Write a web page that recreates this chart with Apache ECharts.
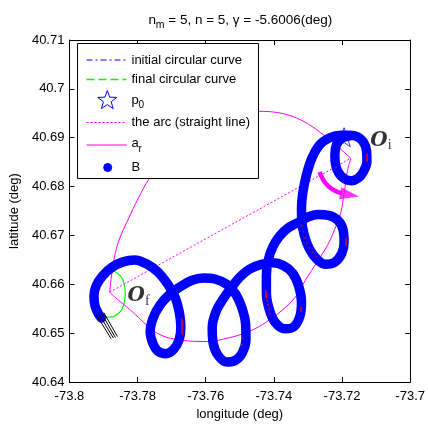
<!DOCTYPE html>
<html>
<head>
<meta charset="utf-8">
<script src="https://cdn.jsdelivr.net/npm/echarts@6/dist/echarts.min.js"></script>
<style>
html,body{margin:0;padding:0;background:#fff;}
#c{width:428px;height:426px;}
</style>
</head>
<body>
<div id="c"></div>
<script>
// Axis ranges and ticks
const lonMin = -73.8, lonMax = -73.7, lonStep = 0.02;
const latMin = 40.64, latMax = 40.71, latStep = 0.01;

// B: trajectory (longitude / latitude), starts on the initial circle around O_i
const bLon = [-73.7176,-73.7201,-73.7216,-73.7221,-73.7219,-73.7209,-73.7191,-73.7173,-73.7153,-73.7137,-73.7127,-73.7128,-73.7138,-73.7155,-73.7176,
  -73.7204,-73.7236,-73.7265,-73.7288,-73.7304,-73.7315,-73.7319,
  -73.7318,-73.7311,-73.7296,-73.7273,-73.7247,-73.7222,-73.7201,-73.7194,-73.7197,-73.7212,-73.7239,-73.7271,-73.7299,-73.7325,-73.7357,-73.7383,-73.7403,
  -73.7416,-73.7422,-73.7422,-73.7414,-73.7397,-73.7368,-73.7342,-73.7324,-73.7319,-73.7327,-73.7345,-73.7371,-73.7403,-73.7437,-73.7472,-73.7501,-73.7524,
  -73.7547,-73.7570,-73.7581,-73.7578,-73.7564,-73.7538,-73.7512,-73.7492,-73.7482,-73.7483,-73.7494,-73.7512,-73.7538,-73.7573,-73.7607,-73.7642,-73.7673,
  -73.7705,-73.7734,-73.7754,-73.7763,-73.7755,-73.7740,-73.7717,-73.7694,-73.7678,-73.7673,-73.7678,-73.7689,-73.7711,-73.7740,-73.7774,-73.7809,
  -73.7843,-73.7875,-73.7902,-73.7921,-73.7928,-73.7925,-73.7915,-73.7906];
const bLat = [40.6904,40.6899,40.6886,40.6865,40.6845,40.6827,40.6815,40.6812,40.6817,40.6831,40.6851,40.6873,40.6892,40.6902,40.6905,
  40.6905,40.6900,40.6886,40.6859,40.6825,40.6788,40.6756,
  40.6730,40.6701,40.6673,40.6651,40.6641,40.6645,40.6663,40.6685,40.6712,40.6731,40.6741,40.6743,40.6738,40.6728,40.6716,40.6699,40.6677,
  40.6651,40.6618,40.6582,40.6550,40.6523,40.6509,40.6513,40.6534,40.6564,40.6596,40.6623,40.6638,40.6644,40.6641,40.6631,40.6614,40.6594,
  40.6572,40.6544,40.6511,40.6479,40.6455,40.6441,40.6445,40.6461,40.6487,40.6519,40.6552,40.6580,40.6600,40.6611,40.6613,40.6608,40.6596,
  40.6580,40.6558,40.6532,40.6503,40.6479,40.6463,40.6458,40.6467,40.6487,40.6513,40.6544,40.6572,40.6600,40.6625,40.6642,40.6650,
  40.6646,40.6635,40.6618,40.6598,40.6576,40.6556,40.6540,40.6531];

// a_r: outer arc from O_f over the top to O_i
const arcOuterLon = [-73.7882,-73.7875,-73.7865,-73.7852,-73.7827,-73.7798,-73.7765,-73.7717,-73.7659,-73.7587,-73.7515,-73.7445,-73.7395,-73.7347,-73.7299,-73.7251,-73.7213,-73.7174];
const arcOuterLat = [40.6584,40.6625,40.6665,40.6695,40.6734,40.6776,40.6817,40.6861,40.6898,40.6928,40.6946,40.6954,40.6952,40.6944,40.6928,40.6904,40.6882,40.6858];

// a_r: inner arc from O_i back to O_f
const arcInnerLon = [-73.7174,-73.7184,-73.7194,-73.7204,-73.7222,-73.7242,-73.7271,-73.7308,-73.7337,-73.7376,-73.7414,-73.7453,-73.7491,-73.7530,-73.7596,-73.7673,-73.7731,-73.7774,-73.7806,-73.7837,-73.7860,-73.7882];
const arcInnerLat = [40.6858,40.6833,40.6786,40.6746,40.6712,40.6681,40.6648,40.6608,40.6574,40.6547,40.6527,40.6510,40.6499,40.6491,40.6483,40.6486,40.6496,40.6517,40.6538,40.6557,40.6570,40.6584];

// the arc as a straight line: O_f -> O_i
const chordLon = [-73.7882,-73.7174];
const chordLat = [40.6584,40.6858];

// final circular curve around O_f
const finalLon = [-73.7881,-73.7856,-73.7840,-73.7836,-73.7842,-73.7859,-73.7882,-73.7905,-73.7921,-73.7927,-73.7921,-73.7905,-73.7881];
const finalLat = [40.6629,40.6621,40.6602,40.6580,40.6556,40.6539,40.6533,40.6540,40.6556,40.6580,40.6604,40.6621,40.6629];

// turning-direction arrow near O_i (body, then head)
const turnLon = [-73.7266,-73.7256,-73.7242,-73.7222,-73.7201];
const turnLat = [40.6830,40.6815,40.6802,40.6792,40.6786];
const turnHeadLon = [-73.7178];
const turnHeadLat = [40.6783];

// start point p0
const p0Lon = [-73.7194];
const p0Lat = [40.6901];

// end-of-path hatch strokes
const hatchLon = [[-73.7921,-73.7878],[-73.7914,-73.7871],[-73.7906,-73.7865],[-73.7899,-73.7859]];
const hatchLat = [[40.6538,40.6489],[40.6540,40.6490],[40.6541,40.6491],[40.6542,40.6493]];

// reference track samples showing through B (short strokes and dots)
const redSegLon = [[-73.7671,-73.7671],[-73.7127,-73.7127],[-73.7189,-73.7189],[-73.7424,-73.7422],[-73.7320,-73.7320]];
const redSegLat = [[40.6530,40.6497],[40.6867,40.6851],[40.6695,40.6679],[40.6588,40.6571],[40.6554,40.6544]];
const redDotLon = [-73.7491,-73.7493,-73.7218,-73.7420,-73.7417,-73.7414,-73.7412,-73.7317,-73.7313,-73.7309,-73.7303,-73.7296,-73.7286,-73.7276];
const redDotLat = [40.6490,40.6476,40.6840,40.6566,40.6558,40.6549,40.6540,40.6720,40.6708,40.6695,40.6685,40.6675,40.6666,40.6657];

// centre labels
const labelNames = ['i','f'];
const labelLon = [-73.7086,-73.7797];
const labelLat = [40.6894,40.6576];

const zip = (a, b) => a.slice(0, Math.min(a.length, b.length)).map((v, i) => [v, b[i]]);

const FONT = '"Liberation Sans", Arial, sans-serif';
const starPath = 'path://M0,-10L2.35,-3.24L9.51,-3.09L3.8,1.24L5.88,8.09L0,4L-5.88,8.09L-3.8,1.24L-9.51,-3.09L-2.35,-3.24Z';

function starPoints(cx, cy, R, r) {
  const pts = [];
  for (let k = 0; k < 10; k++) {
    const ang = -Math.PI / 2 + k * Math.PI / 5;
    const rad = k % 2 === 0 ? R : r;
    pts.push([cx + rad * Math.cos(ang), cy + rad * Math.sin(ang)]);
  }
  return pts;
}

const axisBase = {
  type: 'value',
  axisLine: { show: true, onZero: false, lineStyle: { color: '#000', width: 1 } },
  axisTick: { show: true, inside: true, length: 5, lineStyle: { color: '#000', width: 1 } },
  splitLine: { show: false },
  axisLabel: { color: '#000', fontFamily: FONT, fontSize: 13 }
};

const chart = echarts.init(document.getElementById('c'), null, { renderer: 'canvas' });

const option = {
  animation: false,
  backgroundColor: '#fff',
  grid: { left: 66, right: 14, top: 40, bottom: 40, containLabel: false },
  xAxis: [
    Object.assign({}, axisBase, {
      min: lonMin, max: lonMax, interval: lonStep, position: 'bottom',
      axisLabel: Object.assign({}, axisBase.axisLabel, { margin: 8 }),
      name: 'longitude (deg)', nameLocation: 'middle', nameGap: 22,
      nameTextStyle: { color: '#000', fontFamily: FONT, fontSize: 13 }
    }),
    Object.assign({}, axisBase, {
      min: lonMin, max: lonMax, interval: lonStep, position: 'top',
      axisLabel: { show: false }
    })
  ],
  yAxis: [
    Object.assign({}, axisBase, {
      min: latMin, max: latMax, interval: latStep, position: 'left',
      axisLabel: Object.assign({}, axisBase.axisLabel, { margin: 5 }),
      name: 'latitude (deg)', nameLocation: 'middle', nameGap: 44, nameRotate: 90,
      nameTextStyle: { color: '#000', fontFamily: FONT, fontSize: 13 }
    }),
    Object.assign({}, axisBase, {
      min: latMin, max: latMax, interval: latStep, position: 'right',
      axisLabel: { show: false }
    })
  ],
  series: [
    {
      name: 'final circular curve', type: 'line', z: 2, smooth: 0.5,
      data: zip(finalLon, finalLat), showSymbol: false,
      lineStyle: { color: '#00ff00', width: 1.2 }
    },
    {
      name: 'a_r outer', type: 'line', z: 2, smooth: 0.4,
      data: zip(arcOuterLon, arcOuterLat), showSymbol: false,
      lineStyle: { color: '#ff00ff', width: 1 }
    },
    {
      name: 'a_r inner', type: 'line', z: 2, smooth: 0.4,
      data: zip(arcInnerLon, arcInnerLat), showSymbol: false,
      lineStyle: { color: '#ff00ff', width: 1 }
    },
    {
      name: 'the arc (straight line)', type: 'line', z: 2,
      data: zip(chordLon, chordLat), showSymbol: false,
      lineStyle: { color: '#ff00ff', width: 1, type: [2, 2] }
    },
    {
      name: 'p0', type: 'scatter', z: 3,
      data: zip(p0Lon, p0Lat), symbol: starPath, symbolSize: 20, symbolKeepAspect: true,
      itemStyle: { color: 'rgba(0,0,0,0)', borderColor: '#0000ff', borderWidth: 1 }
    },
    {
      name: 'B', type: 'line', z: 5, smooth: 0.35,
      data: zip(bLon, bLat), showSymbol: false,
      lineStyle: { color: '#0000ff', width: 9.5, cap: 'round', join: 'round' }
    },
    {
      name: 'track strokes', type: 'lines', coordinateSystem: 'cartesian2d', z: 6,
      data: redSegLon.map((lo, i) => ({ coords: zip(lo, redSegLat[i]) })),
      lineStyle: { color: '#ff0000', width: 1.5, opacity: 1 }
    },
    {
      name: 'track dots', type: 'scatter', z: 6, symbol: 'circle', symbolSize: 1.8,
      data: zip(redDotLon, redDotLat),
      itemStyle: { color: '#ff0000' }
    },
    {
      name: 'hatch', type: 'lines', coordinateSystem: 'cartesian2d', z: 6,
      data: hatchLon.map((lo, i) => ({ coords: zip(lo, hatchLat[i]) })),
      lineStyle: { color: '#000', width: 1, opacity: 1 }
    },
    {
      name: 'turn', type: 'line', z: 6, smooth: 0.4,
      data: zip(turnLon, turnLat), showSymbol: false,
      lineStyle: { color: '#ff00ff', width: 4.5, cap: 'butt' }
    },
    {
      name: 'turn head', type: 'scatter', z: 6,
      data: zip(turnHeadLon, turnHeadLat),
      symbol: 'triangle', symbolSize: [12, 19], symbolRotate: -100,
      itemStyle: { color: '#ff00ff' }
    },
    {
      name: 'centres', type: 'scatter', z: 7, symbol: 'circle', symbolSize: 1,
      itemStyle: { color: 'rgba(0,0,0,0)' },
      data: labelNames.map((n, i) => ({ value: [labelLon[i], labelLat[i]], sub: n })),
      label: {
        show: true, position: 'inside',
        formatter: p => '{o|O}{s|' + p.data.sub + '}',
        rich: {
          o: { fontFamily: '"DejaVu Serif", "Liberation Serif", serif', fontStyle: 'italic', fontWeight: 'bold', fontSize: 20, color: '#000' },
          s: { fontFamily: '"Liberation Serif", serif', fontSize: 14, color: '#000', padding: [10, 0, 0, 0] }
        }
      }
    }
  ],
  graphic: [
    // title with subscript
    { type: 'text', x: 148.5, y: 20, z: 100, style: { text: 'n', font: '13.5px ' + FONT, fill: '#000', verticalAlign: 'middle' } },
    { type: 'text', x: 155.8, y: 25.5, z: 100, style: { text: 'm', font: '10.5px ' + FONT, fill: '#000', verticalAlign: 'middle' } },
    { type: 'text', x: 164.5, y: 20, z: 100, style: { text: ' = 5, n = 5, \u03b3 = -5.6006(deg)', font: '13.5px ' + FONT, fill: '#000', verticalAlign: 'middle' } },
    // legend box
    { type: 'rect', z: 100, shape: { x: 77.5, y: 43.5, width: 181, height: 135 }, style: { fill: '#fff', stroke: '#000', lineWidth: 1 } },
    { type: 'line', z: 101, shape: { x1: 86.5, y1: 60, x2: 126.5, y2: 60 }, style: { stroke: '#0000ff', lineWidth: 1, lineDash: [6, 3, 2, 3] } },
    { type: 'text', z: 101, x: 131.5, y: 60, style: { text: 'initial circular curve', font: '13px ' + FONT, fill: '#000', verticalAlign: 'middle' } },
    { type: 'line', z: 101, shape: { x1: 86.5, y1: 79.5, x2: 126.5, y2: 79.5 }, style: { stroke: '#00ff00', lineWidth: 1.3, lineDash: [8, 4] } },
    { type: 'text', z: 101, x: 131.5, y: 79.5, style: { text: 'final circular curve', font: '13px ' + FONT, fill: '#000', verticalAlign: 'middle' } },
    { type: 'polygon', z: 101, shape: { points: starPoints(107.3, 100.5, 10, 4.1) }, style: { fill: 'none', stroke: '#0000ff', lineWidth: 1 } },
    { type: 'text', z: 101, x: 131.5, y: 100, style: { text: 'p', font: '13px ' + FONT, fill: '#000', verticalAlign: 'middle' } },
    { type: 'text', z: 101, x: 138.5, y: 105.5, style: { text: '0', font: '10px ' + FONT, fill: '#000', verticalAlign: 'middle' } },
    { type: 'line', z: 101, shape: { x1: 86.5, y1: 122.5, x2: 126.5, y2: 122.5 }, style: { stroke: '#ff00ff', lineWidth: 1, lineDash: [2, 2] } },
    { type: 'text', z: 101, x: 131.5, y: 122.5, style: { text: 'the arc (straight line)', font: '13px ' + FONT, fill: '#000', verticalAlign: 'middle' } },
    { type: 'line', z: 101, shape: { x1: 86.5, y1: 145, x2: 126.5, y2: 145 }, style: { stroke: '#ff55dd', lineWidth: 1.5 } },
    { type: 'text', z: 101, x: 131.5, y: 143, style: { text: 'a', font: '13px ' + FONT, fill: '#000', verticalAlign: 'middle' } },
    { type: 'text', z: 101, x: 138.5, y: 149, style: { text: 'r', font: '10px ' + FONT, fill: '#000', verticalAlign: 'middle' } },
    { type: 'circle', z: 101, shape: { cx: 107.7, cy: 167.5, r: 4 }, style: { fill: '#0000ff', stroke: '#0000ff' } },
    { type: 'text', z: 101, x: 131.5, y: 167.5, style: { text: 'B', font: '13px ' + FONT, fill: '#000', verticalAlign: 'middle' } }
  ]
};

chart.setOption(option);
</script>
</body>
</html>
